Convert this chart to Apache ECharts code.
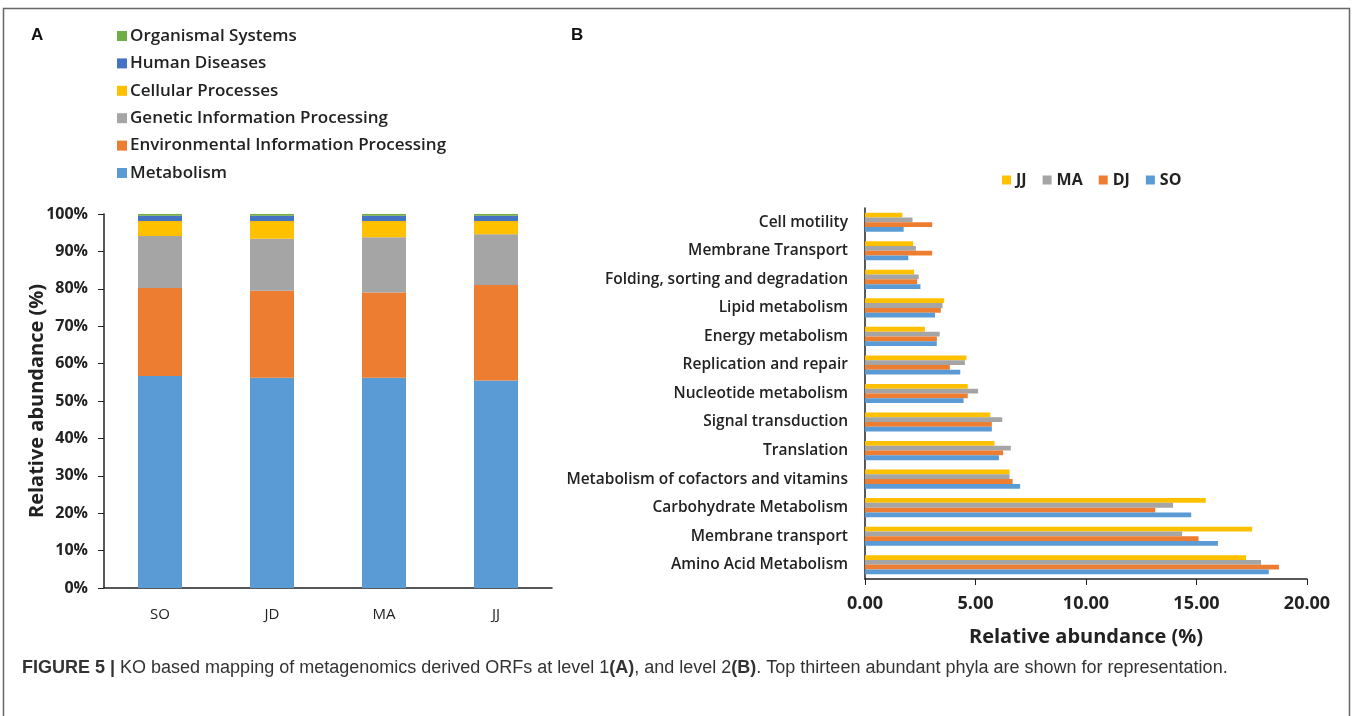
<!DOCTYPE html>
<html>
<head>
<meta charset="utf-8">
<script src="https://cdn.jsdelivr.net/npm/echarts@6/dist/echarts.min.js"></script>
<style>
html,body{margin:0;padding:0;background:#fff;}
#chart{width:1355px;height:716px;}
</style>
</head>
<body>
<div id="chart"></div>
<script>
// Panel A data (% of reads, stacked)
const catsA = ['SO', 'JD', 'MA', 'JJ'];
const metabolism = [56.7, 56.2, 56.2, 55.5];
const environmental = [23.5, 23.3, 22.8, 25.5];
const genetic = [13.9, 13.9, 14.8, 13.6];
const cellular = [4.0, 4.7, 4.3, 3.5];
const humanDiseases = [1.4, 1.4, 1.4, 1.4];
const organismal = [0.5, 0.5, 0.5, 0.5];
const ticksA = [0, 10, 20, 30, 40, 50, 60, 70, 80, 90, 100];

// Panel B data (bottom to top)
const catsB = ['Amino Acid Metabolism', 'Membrane transport', 'Carbohydrate Metabolism',
  'Metabolism of cofactors and vitamins', 'Translation', 'Signal transduction',
  'Nucleotide metabolism', 'Replication and repair', 'Energy metabolism',
  'Lipid metabolism', 'Folding, sorting and degradation', 'Membrane Transport', 'Cell motility'];
const JJ = [17.24, 17.52, 15.42, 6.54, 5.86, 5.67, 4.65, 4.59, 2.71, 3.58, 2.22, 2.18, 1.69];
const MA = [17.92, 14.35, 13.94, 6.54, 6.60, 6.21, 5.12, 4.52, 3.38, 3.51, 2.43, 2.30, 2.15];
const DJ = [18.73, 15.09, 13.13, 6.68, 6.25, 5.74, 4.65, 3.84, 3.25, 3.43, 2.36, 3.04, 3.04];
const SO = [18.27, 15.97, 14.76, 7.02, 6.06, 5.74, 4.46, 4.31, 3.25, 3.17, 2.51, 1.96, 1.75];
const ticksB = [0, 5, 10, 15, 20];

const FONT = 'Open Sans';
const TXT = '#222';
const C = {blue:'#5B9BD5', orange:'#ED7D31', gray:'#A5A5A5', yellow:'#FFC000', dblue:'#4472C4', green:'#70AD47'};

const chart = echarts.init(document.getElementById('chart'));

function stackSeries(name, data, color) {
  return {name, type:'bar', stack:'a', xAxisIndex:0, yAxisIndex:0, data, barWidth:44,
    itemStyle:{color}, emphasis:{disabled:true}};
}
function hbar(name, data, color) {
  return {name, type:'bar', xAxisIndex:1, yAxisIndex:1, data, barGap:'0%', barCategoryGap:'33%',
    itemStyle:{color}, emphasis:{disabled:true}};
}

const option = {
  animation:false,
  textStyle:{fontFamily:FONT},
  graphic:[
    {type:'rect', shape:{x:3.5, y:8.5, width:1346, height:730}, style:{fill:'none', stroke:'#666', lineWidth:1.5}},
    {type:'text', left:31, top:27, style:{text:'A', font:'bold 17px "Liberation Sans"', fill:'#111'}},
    {type:'text', left:571, top:27, style:{text:'B', font:'bold 17px "Liberation Sans"', fill:'#111'}},
    {type:'text', left:22, top:659, style:{
      text:'{b|FIGURE 5 |} KO based mapping of metagenomics derived ORFs at level 1{b|(A)}, and level 2{b|(B)}. Top thirteen abundant phyla are shown for representation.',
      font:'18px "Liberation Sans"', fill:'#333',
      rich:{b:{fontWeight:'bold', fontSize:18, fontFamily:'Liberation Sans', fill:'#333'}}
    }}
  ],
  legend:[
    {data:['Organismal Systems','Human Diseases','Cellular Processes','Genetic Information Processing','Environmental Information Processing','Metabolism'],
     orient:'vertical', left:112, top:22, itemWidth:10, itemHeight:10, itemGap:9.4, icon:'rect',
     textStyle:{fontFamily:FONT, fontWeight:600, fontSize:17, color:TXT, lineHeight:18, padding:[0,0,0,-2]}},
    {data:['JJ','MA','DJ','SO'], orient:'horizontal', left:997, top:167, itemWidth:9, itemHeight:9, itemGap:16, icon:'rect',
     textStyle:{fontFamily:FONT, fontWeight:'bold', fontSize:16, color:TXT}}
  ],
  grid:[
    {left:104, top:214, width:448, height:374},
    {left:865, top:208, width:442, height:371}
  ],
  xAxis:[
    {gridIndex:0, type:'category', data:catsA,
     axisLine:{lineStyle:{color:'#222', width:1.5}}, axisTick:{length:6, lineStyle:{color:'#222'}},
     axisLabel:{fontFamily:FONT, fontSize:15, color:TXT, margin:19}},
    {gridIndex:1, type:'value', min:ticksB[0], max:ticksB[ticksB.length-1], interval:5,
     axisLine:{show:true, lineStyle:{color:'#222', width:1.5}}, axisTick:{show:true, length:6, lineStyle:{color:'#222'}},
     splitLine:{show:false},
     axisLabel:{fontFamily:FONT, fontWeight:'bold', fontSize:18, color:TXT, margin:16, formatter:v=>v.toFixed(2)},
     name:'Relative abundance (%)', nameLocation:'middle', nameGap:48,
     nameTextStyle:{fontFamily:FONT, fontWeight:'bold', fontSize:20, color:TXT}},
  ],
  yAxis:[
    {gridIndex:0, type:'value', min:ticksA[0], max:ticksA[ticksA.length-1], interval:10,
     axisLine:{show:true, lineStyle:{color:'#222', width:1.5}}, axisTick:{show:true, length:6, lineStyle:{color:'#222'}},
     splitLine:{show:false},
     axisLabel:{fontFamily:FONT, fontWeight:'bold', fontSize:16, color:TXT, margin:16, formatter:'{value}%'},
     name:'Relative abundance (%)', nameLocation:'middle', nameGap:57, nameRotate:90, nameMoveOverlap:false,
     nameTextStyle:{fontFamily:FONT, fontWeight:'bold', fontSize:20, color:TXT}},
    {gridIndex:1, type:'category', data:catsB,
     axisLine:{lineStyle:{color:'#222', width:1.5}}, axisTick:{length:6, lineStyle:{color:'#222'}},
     axisLabel:{fontFamily:FONT, fontWeight:600, fontSize:15.5, color:TXT, margin:17}}
  ],
  series:[
    stackSeries('Metabolism', metabolism, C.blue),
    stackSeries('Environmental Information Processing', environmental, C.orange),
    stackSeries('Genetic Information Processing', genetic, C.gray),
    stackSeries('Cellular Processes', cellular, C.yellow),
    stackSeries('Human Diseases', humanDiseases, C.dblue),
    stackSeries('Organismal Systems', organismal, C.green),
    hbar('JJ', JJ, C.yellow),
    hbar('MA', MA, C.gray),
    hbar('DJ', DJ, C.orange),
    hbar('SO', SO, C.blue)
  ]
};
chart.setOption(option);
</script>
</body>
</html>
